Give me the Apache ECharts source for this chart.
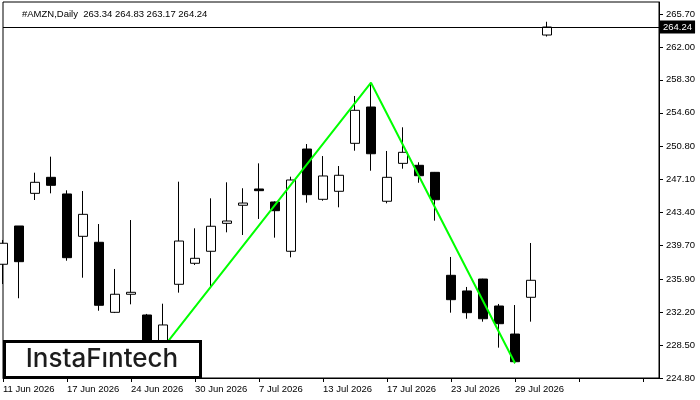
<!DOCTYPE html>
<html>
<head>
<meta charset="utf-8">
<script src="https://cdn.jsdelivr.net/npm/echarts@6/dist/echarts.min.js"></script>
<style>html,body{margin:0;padding:0;background:#fff}#c{width:700px;height:400px}</style>
</head>
<body>
<div id="c"></div>
<script>
var dates = ['11 Jun 2026','12 Jun 2026','15 Jun 2026','16 Jun 2026','17 Jun 2026','18 Jun 2026','22 Jun 2026','23 Jun 2026','24 Jun 2026','25 Jun 2026','26 Jun 2026','29 Jun 2026','30 Jun 2026',
 '1 Jul 2026','2 Jul 2026','6 Jul 2026','7 Jul 2026','8 Jul 2026','9 Jul 2026','10 Jul 2026','13 Jul 2026','14 Jul 2026','15 Jul 2026','16 Jul 2026','17 Jul 2026','20 Jul 2026','21 Jul 2026','22 Jul 2026','23 Jul 2026','24 Jul 2026','27 Jul 2026','28 Jul 2026','29 Jul 2026','30 Jul 2026','31 Jul 2026'];
var opens  = [237.58,241.88,245.55,247.35,245.48,240.72,240.05,232.18,234.21,231.88,228.00,235.33,237.69,239.04,242.18,244.21,246.04,244.58,239.04,250.53,244.88,245.78,251.17,255.25,244.66,248.92,248.70,247.91,236.34,234.58,235.92,232.89,229.74,233.87,263.34];
var highs  = [240.31,241.88,247.87,249.67,245.89,245.81,242.10,237.05,242.55,232.00,233.15,246.86,241.62,244.99,246.79,246.12,248.92,244.65,247.42,251.09,249.74,248.62,256.49,257.98,250.31,252.97,249.04,247.95,238.40,235.03,235.95,233.12,233.00,239.97,264.83];
var lows   = [235.36,233.76,244.80,245.55,237.98,236.07,232.36,232.10,233.08,225.90,227.50,234.39,237.50,235.06,241.17,240.87,242.67,240.57,238.36,244.50,244.72,243.98,250.34,248.09,244.43,248.32,246.74,242.48,232.14,231.46,231.13,228.21,226.45,231.13,263.17];
var closes = [239.94,237.87,246.79,246.45,238.32,243.19,232.97,234.21,234.43,227.00,230.76,240.19,238.25,241.85,242.44,244.46,245.85,243.60,247.05,245.40,247.50,247.58,254.88,250.00,247.35,250.16,247.53,244.83,233.60,232.14,231.46,230.90,226.63,235.78,264.24];
var padSlots = ['_1','_2','_3','_4','_5','_6','_7'];
var priceTicks = [224.80,228.50,232.20,235.90,239.70,243.40,247.10,250.80,254.60,258.30,262.00,265.70];
var patternIdx = [9, 23, 32];
var patternVal = [225.90, 257.98, 226.45];
var lastPrice = 264.24;
var header = '#AMZN,Daily  263.34 264.83 263.17 264.24';

var cats = dates.concat(padSlots);
var candle = dates.map(function(d,i){ return [opens[i], closes[i], lows[i], highs[i]]; });
var pattern = patternIdx.map(function(k,i){ return [k, patternVal[i]]; });
var FONT = 'Liberation Sans';

var chart = echarts.init(document.getElementById('c'), null, {renderer:'canvas'});
chart.setOption({
  animation: false,
  backgroundColor: '#fff',
  title: {
    text: header, left: 17, top: 4,
    textStyle: {fontFamily: FONT, fontSize: 9.5, fontWeight: 'normal', color: '#000'}
  },
  grid: {left: 3, right: 41, top: 2, bottom: 22, show: true, borderColor: '#000', borderWidth: 1, containLabel: false},
  xAxis: {
    type: 'category', data: cats, boundaryGap: false,
    axisLine: {lineStyle: {color: '#000', width: 1}},
    axisTick: {interval: 3, length: 4, lineStyle: {color: '#000'}},
    axisLabel: {interval: 3, align: 'left', margin: 6, color: '#000', fontFamily: FONT, fontSize: 9.5,
      formatter: function(v){ return v.charAt(0) === '_' ? '' : v; }},
    splitLine: {show: false}
  },
  yAxis: {
    type: 'value', position: 'right', min: 224.8, max: 267.05, scale: true,
    axisLine: {show: true, lineStyle: {color: '#000', width: 1}},
    axisTick: {show: true, length: 4, lineStyle: {color: '#000'}, customValues: priceTicks},
    axisLabel: {margin: 7, color: '#000', fontFamily: FONT, fontSize: 9.5, customValues: priceTicks,
      formatter: function(v){ return Number(v).toFixed(2); }},
    splitLine: {show: false}
  },
  series: [
    {
      type: 'candlestick', data: candle, barWidth: 10,
      itemStyle: {color: '#fff', color0: '#000', borderColor: '#000', borderColor0: '#000', borderWidth: 1},
      markLine: {
        silent: true, symbol: 'none',
        lineStyle: {color: '#000', width: 1, type: 'solid'},
        label: {show: true, position: 'end', distance: 1, color: '#fff', backgroundColor: '#000',
          padding: [2, 3, 1, 3], fontFamily: FONT, fontSize: 9.5,
          formatter: function(){ return lastPrice.toFixed(2); }},
        data: [{yAxis: lastPrice}]
      },
      z: 2
    },
    {
      type: 'line', data: pattern, symbol: 'none', z: 5,
      lineStyle: {color: '#00ff00', width: 2}
    }
  ],
  graphic: {
    elements: [
      {type: 'rect', zlevel: 1, z: 100, shape: {x: 4.5, y: 341.5, width: 196, height: 36}, style: {fill: '#fff', stroke: '#000', lineWidth: 3}},
      {type: 'text', zlevel: 1, z: 101, x: 102, y: 359.5, style: {text: 'InstaFıntech', fontFamily: 'Inter', fontSize: 26, fontWeight: 500, fill: '#1c1c1c', align: 'center', verticalAlign: 'middle'}}
    ]
  }
});
</script>
</body>
</html>
